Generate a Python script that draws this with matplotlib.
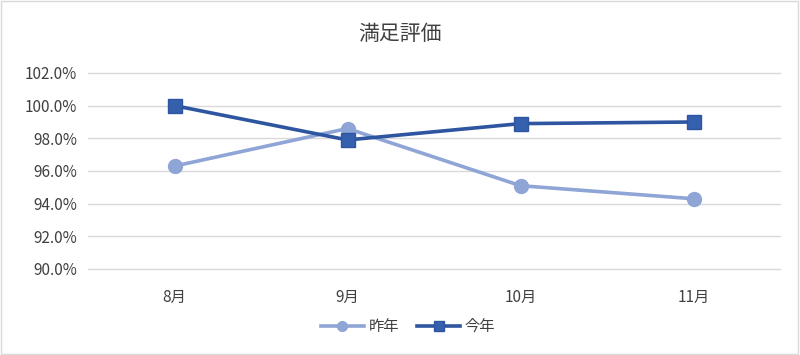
import matplotlib
matplotlib.use("Agg")
import matplotlib.pyplot as plt
from matplotlib.patches import Rectangle
from matplotlib.ticker import FuncFormatter

plt.rcParams["font.family"] = ["Noto Sans CJK JP", "DejaVu Sans"]

# Data
months = ["8月", "9月", "10月", "11月"]
last_year = [96.3, 98.6, 95.1, 94.3]
this_year = [100.0, 97.9, 98.9, 99.0]
y_ticks = [90, 92, 94, 96, 98, 100, 102]

fig = plt.figure(figsize=(8, 3.55), dpi=100)
ax = fig.add_axes([0.11, 0.2423, 0.865, 0.5521])

x = range(len(months))
ax.plot(x, last_year, color="#8EA5D6", lw=2.6, marker="o", ms=10,
        label="昨年", zorder=3)
ax.plot(x, this_year, color="#2E55A0", lw=2.6, marker="s", ms=10,
        markerfacecolor="#3560AD", markeredgecolor="#2E55A0",
        label="今年", zorder=4)

ax.set_xlim(-0.5, 3.5)
ax.set_ylim(90, 102)
ax.set_yticks(y_ticks)
ax.yaxis.set_major_formatter(FuncFormatter(lambda v, p: f"{v:.1f}%"))
ax.set_xticks(list(x))
ax.set_xticklabels(months)
ax.grid(axis="y", color="#D9D9D9", lw=1)
for gl in ax.get_ygridlines():
    gl.set_clip_on(False)
ax.set_axisbelow(True)
for s in ax.spines.values():
    s.set_visible(False)
ax.tick_params(length=0, labelsize=11, colors="#404040", pad=8)
ax.tick_params(axis="x", pad=14)

fig.text(0.5, 0.905, "満足評価", ha="center", va="center",
         fontsize=15, color="#404040")

leg = fig.legend(loc="center", bbox_to_anchor=(0.51, 0.08), ncol=2,
                 frameon=False, fontsize=11, handlelength=2.8,
                 columnspacing=1.2, handletextpad=0.3)
for t in leg.get_texts():
    t.set_color("#404040")
for h in leg.legend_handles:
    h.set_markersize(7)

fig.patches.append(Rectangle((0.001, 0.002), 0.997, 0.995,
                             transform=fig.transFigure, fill=False,
                             edgecolor="#D9D9D9", lw=1))

fig.savefig("out.png", dpi=100)
